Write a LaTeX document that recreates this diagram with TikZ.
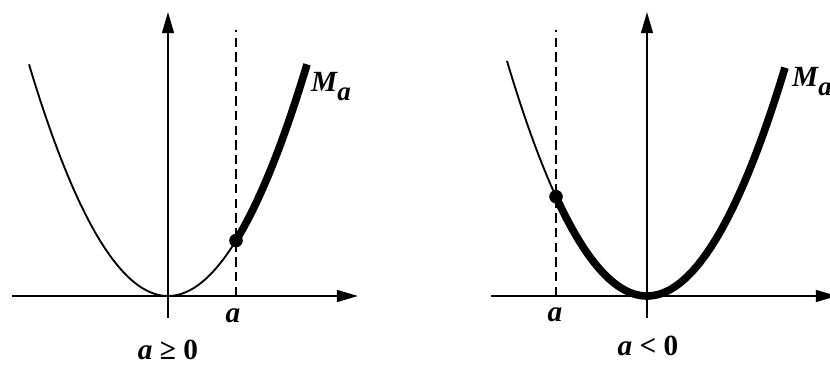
\documentclass[tikz,border=0pt]{standalone}
\usepackage{fontspec}
\setmainfont{Liberation Serif}
\usetikzlibrary{arrows.meta}

\begin{document}
\begin{tikzpicture}[x=0.03cm,y=0.03cm,axis/.style={draw=black,line width=1.8pt,-{Triangle[length=18pt,width=10pt]}},graph/.style={line width=1.6pt},graphbold/.style={line width=6.5pt},guide/.style={line width=2pt,dash pattern=on 8pt off 4.5pt},lbl/.style={inner sep=0pt,anchor=base,font=\fontsize{25pt}{29pt}\selectfont\bfseries\itshape},sub/.style={lbl,anchor=base west}]
\useasboundingbox (-168,-71) rectangle (662,296);
% left panel, a >= 0
\coordinate (xl1) at (-156,0);
\coordinate (xr1) at (190,0);
\coordinate (yb1) at (0,-22);
\coordinate (yt1) at (0,284);
\coordinate (a1) at (68,0);
\coordinate (at1) at (68,266);
\coordinate (p1) at (68,{(0.1095*68)*(0.1095*68)});
\draw[axis] (xl1) -- (xr1);
\draw[axis] (yb1) -- (yt1);
\draw[guide] (a1) -- (at1);
\draw[graph] plot[domain=-139:68,samples=60] (\x,{(0.1095*\x)*(0.1095*\x)});
\draw[graphbold] plot[domain=68:139,samples=30] (\x,{(0.1095*\x)*(0.1095*\x)});
\fill (p1) circle[radius=5.8pt];
\node[sub] (m1) at (143,204) {M\raisebox{-7pt}{\fontsize{23pt}{26pt}\selectfont a}};
\node[lbl] (la1) at (65,-27) {a};
\node[lbl] (c1) at (0,-64) {a \upshape≥ 0};
% right panel, a < 0
\begin{scope}[shift={(479,0)}]
\coordinate (xl2) at (-156,0);
\coordinate (xr2) at (190,0);
\coordinate (yb2) at (0,-22);
\coordinate (yt2) at (0,284);
\coordinate (a2) at (-91,0);
\coordinate (at2) at (-91,266);
\coordinate (p2) at (-91,{(0.1095*91)*(0.1095*91)});
\draw[axis] (xl2) -- (xr2);
\draw[axis] (yb2) -- (yt2);
\draw[guide] (a2) -- (at2);
\draw[graph] plot[domain=-140:-91,samples=30] (\x,{(0.1095*\x)*(0.1095*\x)});
\draw[graphbold] plot[domain=-91:138,samples=80] (\x,{(0.1095*\x)*(0.1095*\x)});
\fill (p2) circle[radius=5.8pt];
\node[sub] (m2) at (145,209) {M\raisebox{-7pt}{\fontsize{23pt}{26pt}\selectfont a}};
\node[lbl] (la2) at (-92,-26) {a};
\node[lbl] (c2) at (1,-60) {a \upshape< 0};
\end{scope}
\end{tikzpicture}
\end{document}
